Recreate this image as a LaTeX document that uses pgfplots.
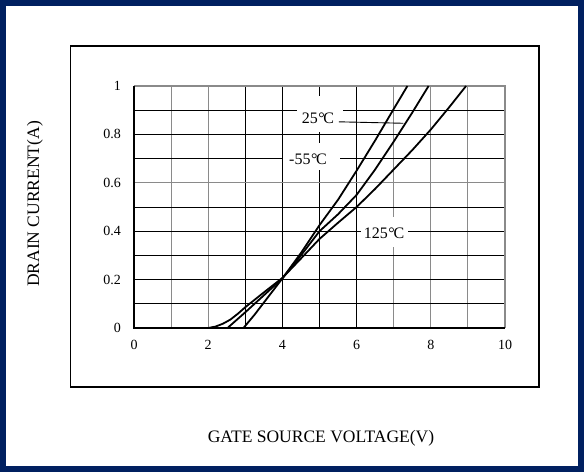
\documentclass[border=0pt]{standalone}
\usepackage{pgfplots}
\pgfplotsset{compat=1.18}
\usepackage{fontspec}
\setmainfont{Liberation Serif}
\definecolor{navy}{HTML}{002060}
\definecolor{gridgray}{HTML}{8A8A8A}
\newcommand{\degc}{\kern0.03em°\kern-0.08em C}
\begin{document}
\begin{tikzpicture}
\fill[navy] (0pt,0pt) rectangle (584pt,472pt);
\fill[white] (6pt,6pt) rectangle (578pt,466pt);
\draw[black, line width=1.1pt] (70.5pt,85pt) rectangle (539pt,426pt);
\node[rotate=90, font=\fontsize{17.5}{20}\selectfont] at (35pt,268pt) {DRAIN CURRENT(A)};
\node[font=\fontsize{17.5}{20}\selectfont] at (321pt,34pt) {GATE SOURCE VOLTAGE(V)};
\begin{axis}[
  at={(134pt,144pt)}, anchor=south west,
  scale only axis, width=371pt, height=242pt,
  xmin=0, xmax=10, ymin=0, ymax=1,
  xtick={0,2,4,6,8,10},
  ytick={0,0.2,0.4,0.6,0.8,1},
  major tick length=0pt,
  axis line style={draw=none},
  tick label style={font=\fontsize{14}{16}\selectfont},
  /pgf/number format/assume math mode=true,
  xticklabel style={yshift=-8.5pt},
  yticklabel style={xshift=-9.5pt},
  clip=false,
]
% grid lines
\pgfplotsinvokeforeach{1,2,7,8,9}{\draw[gridgray, line width=1.1pt] (axis cs:#1,0) -- (axis cs:#1,1);}
\pgfplotsinvokeforeach{3,4,5,6}{\draw[black, line width=0.9pt] (axis cs:#1,0) -- (axis cs:#1,1);}
\pgfplotsinvokeforeach{0.1,0.2,0.3,0.4,0.5,0.7,0.8,0.9}{\draw[black, line width=0.9pt] (axis cs:0,#1) -- (axis cs:10,#1);}
\draw[gridgray, line width=1.1pt] (axis cs:0,0.6) -- (axis cs:10,0.6);
\draw[gridgray, line width=1.4pt] (axis cs:0,1) -- (axis cs:10,1) -- (axis cs:10,0);
\draw[black, line width=1.6pt] (axis cs:0,1) -- (axis cs:0,0) -- (axis cs:10,0);
% white boxes behind labels
\fill[white] (axis cs:4.39,0.81) rectangle (axis cs:5.63,0.96);
\fill[white] (axis cs:4.02,0.653) rectangle (axis cs:5.55,0.764);
\fill[white] (axis cs:6.13,0.336) rectangle (axis cs:7.39,0.46);
\draw[black, line width=0.9pt] (axis cs:5.52,0.852) -- (axis cs:7.26,0.846);
% curves
\addplot[black, line width=1.8pt, line join=round, no markers] coordinates {
(2.95,0) (3.25,0.055) (3.5,0.105) (4,0.205) (4.5,0.31) (5,0.425) (5.5,0.53) (6,0.65) (6.5,0.775) (7,0.905) (7.37,1.0)};
\addplot[black, line width=1.8pt, line join=round, no markers] coordinates {
(2.52,0) (3,0.065) (3.5,0.135) (4,0.205) (4.5,0.30) (5,0.40) (5.5,0.47) (6,0.55) (6.5,0.655) (7,0.77) (7.5,0.89) (7.94,1.0)};
\addplot[black, line width=1.8pt, line join=round, no markers] coordinates {
(2,0) (2.2,0.006) (2.4,0.018) (2.6,0.035) (2.8,0.059) (3,0.086) (3.5,0.147) (4,0.207) (4.5,0.287) (5,0.368) (5.5,0.435) (6,0.5) (6.5,0.575) (7,0.655) (7.5,0.735) (8,0.82) (8.5,0.913) (8.95,1.0)};
% labels
\node[font=\fontsize{16}{18}\selectfont, inner sep=0pt] at (axis cs:4.96,0.868) {25\degc};
\node[font=\fontsize{16}{18}\selectfont, inner sep=0pt] at (axis cs:4.69,0.697) {-55\degc};
\node[font=\fontsize{16}{18}\selectfont, inner sep=0pt] at (axis cs:6.74,0.391) {125\degc};
\end{axis}
\end{tikzpicture}
\end{document}
